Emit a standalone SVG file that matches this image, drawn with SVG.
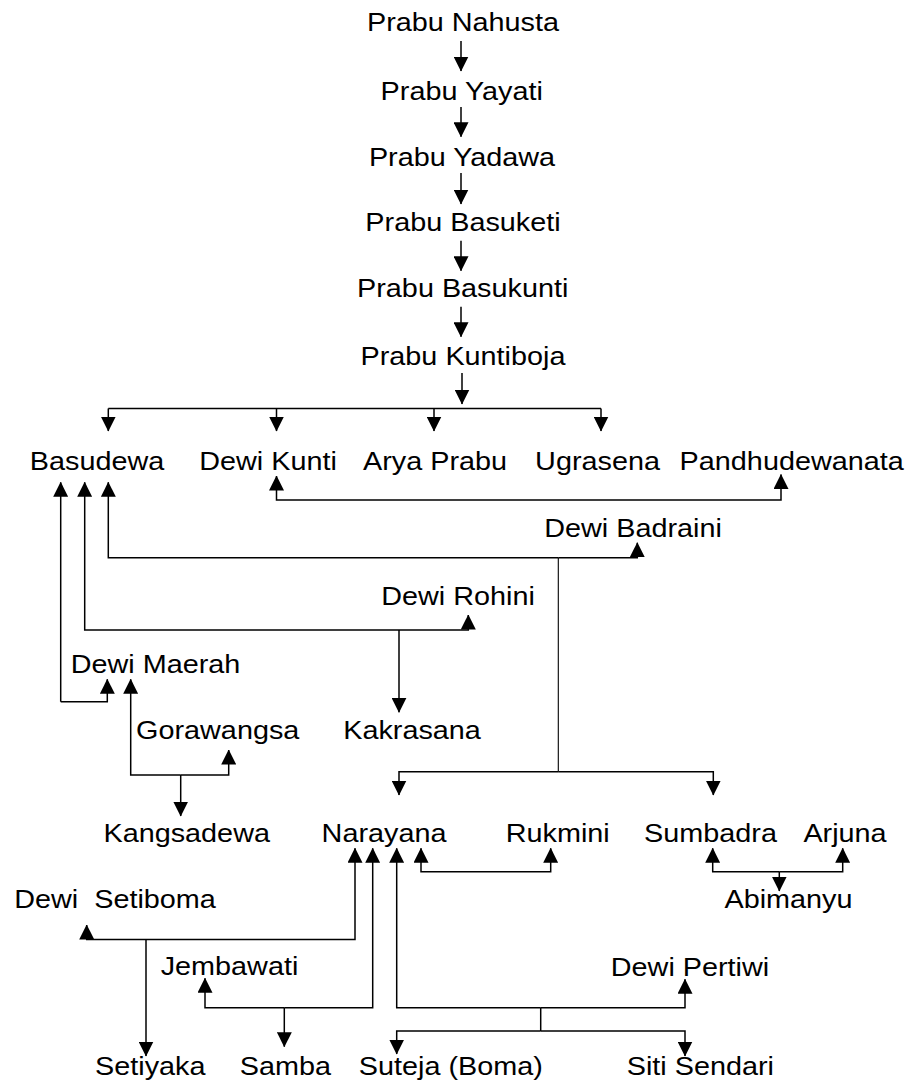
<svg xmlns="http://www.w3.org/2000/svg" width="911" height="1085" viewBox="0 0 911 1085">
  <style>
    .lbl { font-family: "Liberation Sans", Arial, sans-serif; font-size: 25.5px; fill: #000; text-anchor: middle; white-space: pre; }
    .ln { fill: none; stroke: #000; stroke-width: 1.5; }
    .ln.thin { stroke-width: 1.1; }
    .ar { marker-end: url(#ah); }
  </style>
  <defs>
    <marker id="ah" viewBox="0 0 15 15" markerWidth="15" markerHeight="15" markerUnits="userSpaceOnUse" refX="14.5" refY="7.5" orient="auto">
      <path d="M0,0 L15,7.5 L0,15 z" fill="#000"/>
    </marker>
  </defs>

  <rect width="911" height="1085" fill="#fff"/>

  <!-- connectors -->
  <g id="connectors">
    <!-- direct line of descent -->
    <path class="ln ar" d="M461,41 V71"/>
    <path class="ln ar" d="M461,107 V136.7"/>
    <path class="ln ar" d="M461,173 V204"/>
    <path class="ln ar" d="M461,240.7 V270.7"/>
    <path class="ln ar" d="M461,306.7 V336.7"/>
    <path class="ln ar" d="M462,373 V404"/>

    <!-- children of Kuntiboja -->
    <path class="ln" d="M108.3,408.5 H601"/>
    <path class="ln ar" d="M108.3,408.5 V431"/>
    <path class="ln ar" d="M276.5,408.5 V431"/>
    <path class="ln ar" d="M434,408.5 V431"/>
    <path class="ln ar" d="M601,408.5 V431"/>

    <!-- Dewi Kunti + Pandhudewanata -->
    <path class="ln ar" d="M528,500 H276.5 V476"/>
    <path class="ln ar" d="M528,500 H781 V474.5"/>

    <!-- Basudewa + Dewi Badraini -->
    <path class="ln ar" d="M558.3,557.7 H108.3 V482.3"/>
    <path class="ln ar" d="M558.3,557.7 H637.3 V542.7"/>
    <path class="ln thin" d="M558.3,557.7 V771.7"/>
    <path class="ln ar" d="M558.3,771.7 H399 V795"/>
    <path class="ln ar" d="M558.3,771.7 H713.3 V795"/>

    <!-- Basudewa + Dewi Rohini -->
    <path class="ln ar" d="M399,630 H84.7 V482.3"/>
    <path class="ln ar" d="M399,630 H468.3 V615"/>
    <path class="ln ar" d="M399,630 V712.3"/>

    <!-- Basudewa + Dewi Maerah -->
    <path class="ln ar" d="M60.7,701.7 V482.3"/>
    <path class="ln ar" d="M60.7,701.7 H107.3 V679.3"/>

    <!-- Dewi Maerah + Gorawangsa -->
    <path class="ln ar" d="M180.7,775 H130.7 V679.3"/>
    <path class="ln ar" d="M180.7,775 H228.7 V750"/>
    <path class="ln ar" d="M180.7,775 V816"/>

    <!-- Narayana + Rukmini -->
    <path class="ln ar" d="M485,871.7 H421 V848.3"/>
    <path class="ln ar" d="M485,871.7 H550.7 V848.3"/>

    <!-- Sumbadra + Arjuna -->
    <path class="ln ar" d="M779.3,871.7 H712.7 V848.3"/>
    <path class="ln ar" d="M779.3,871.7 H842.7 V848.3"/>
    <path class="ln ar" d="M779.3,871.7 V891"/>

    <!-- Narayana + Dewi Setiboma -->
    <path class="ln ar" d="M146,939.5 H86.7 V925"/>
    <path class="ln ar" d="M146,939.5 H355 V848.3"/>
    <path class="ln ar" d="M146,939.5 V1056"/>

    <!-- Narayana + Jembawati -->
    <path class="ln ar" d="M284.3,1007.7 H205 V978.3"/>
    <path class="ln ar" d="M284.3,1007.7 H372.7 V848.3"/>
    <path class="ln ar" d="M284.3,1007.7 V1046.7"/>

    <!-- Narayana + Dewi Pertiwi -->
    <path class="ln ar" d="M540.7,1007.7 H396.7 V848.3"/>
    <path class="ln ar" d="M540.7,1007.7 H685 V979.3"/>
    <path class="ln" d="M540.7,1007.7 V1031"/>
    <path class="ln ar" d="M540.7,1031 H396.7 V1054"/>
    <path class="ln ar" d="M540.7,1031 H685 V1056"/>
  </g>

  <!-- people -->
  <g id="nahusta" transform="translate(463,31) scale(1.13,1)"><text class="lbl">Prabu Nahusta</text></g>
  <g id="yayati" transform="translate(461.7,99.5) scale(1.13,1)"><text class="lbl">Prabu Yayati</text></g>
  <g id="yadawa" transform="translate(462,165.7) scale(1.13,1)"><text class="lbl">Prabu Yadawa</text></g>
  <g id="basuketi" transform="translate(463,230.7) scale(1.13,1)"><text class="lbl">Prabu Basuketi</text></g>
  <g id="basukunti" transform="translate(462.7,296.7) scale(1.13,1)"><text class="lbl">Prabu Basukunti</text></g>
  <g id="kuntiboja" transform="translate(463,365) scale(1.13,1)"><text class="lbl">Prabu Kuntiboja</text></g>

  <g id="basudewa" transform="translate(97,470) scale(1.13,1)"><text class="lbl">Basudewa</text></g>
  <g id="kunti" transform="translate(268,470) scale(1.13,1)"><text class="lbl">Dewi Kunti</text></g>
  <g id="arya-prabu" transform="translate(435,470) scale(1.13,1)"><text class="lbl">Arya Prabu</text></g>
  <g id="ugrasena" transform="translate(597.5,470) scale(1.13,1)"><text class="lbl">Ugrasena</text></g>
  <g id="pandhudewanata" transform="translate(791.7,470) scale(1.13,1)"><text class="lbl">Pandhudewanata</text></g>

  <g id="badraini" transform="translate(633,536.7) scale(1.13,1)"><text class="lbl">Dewi Badraini</text></g>
  <g id="rohini" transform="translate(458,605) scale(1.13,1)"><text class="lbl">Dewi Rohini</text></g>
  <g id="maerah" transform="translate(155.5,672.7) scale(1.13,1)"><text class="lbl">Dewi Maerah</text></g>
  <g id="gorawangsa" transform="translate(217.7,739.3) scale(1.13,1)"><text class="lbl">Gorawangsa</text></g>
  <g id="kakrasana" transform="translate(412,739.3) scale(1.13,1)"><text class="lbl">Kakrasana</text></g>

  <g id="kangsadewa" transform="translate(186.7,841.5) scale(1.13,1)"><text class="lbl">Kangsadewa</text></g>
  <g id="narayana" transform="translate(384,841.5) scale(1.13,1)"><text class="lbl">Narayana</text></g>
  <g id="rukmini" transform="translate(557.7,841.5) scale(1.13,1)"><text class="lbl">Rukmini</text></g>
  <g id="sumbadra" transform="translate(710.5,841.5) scale(1.13,1)"><text class="lbl">Sumbadra</text></g>
  <g id="arjuna" transform="translate(845,841.5) scale(1.13,1)"><text class="lbl">Arjuna</text></g>

  <g id="setiboma" transform="translate(115,908.3) scale(1.13,1)"><text class="lbl" xml:space="preserve">Dewi  Setiboma</text></g>
  <g id="abimanyu" transform="translate(788.5,908.3) scale(1.13,1)"><text class="lbl">Abimanyu</text></g>
  <g id="jembawati" transform="translate(229.5,975) scale(1.13,1)"><text class="lbl">Jembawati</text></g>
  <g id="pertiwi" transform="translate(690,975.7) scale(1.13,1)"><text class="lbl">Dewi Pertiwi</text></g>

  <g id="setiyaka" transform="translate(150.3,1075) scale(1.13,1)"><text class="lbl">Setiyaka</text></g>
  <g id="samba" transform="translate(285.3,1075) scale(1.13,1)"><text class="lbl">Samba</text></g>
  <g id="suteja" transform="translate(450.8,1075) scale(1.13,1)"><text class="lbl">Suteja (Boma)</text></g>
  <g id="siti-sendari" transform="translate(700.3,1075) scale(1.13,1)"><text class="lbl">Siti Sendari</text></g>
</svg>
